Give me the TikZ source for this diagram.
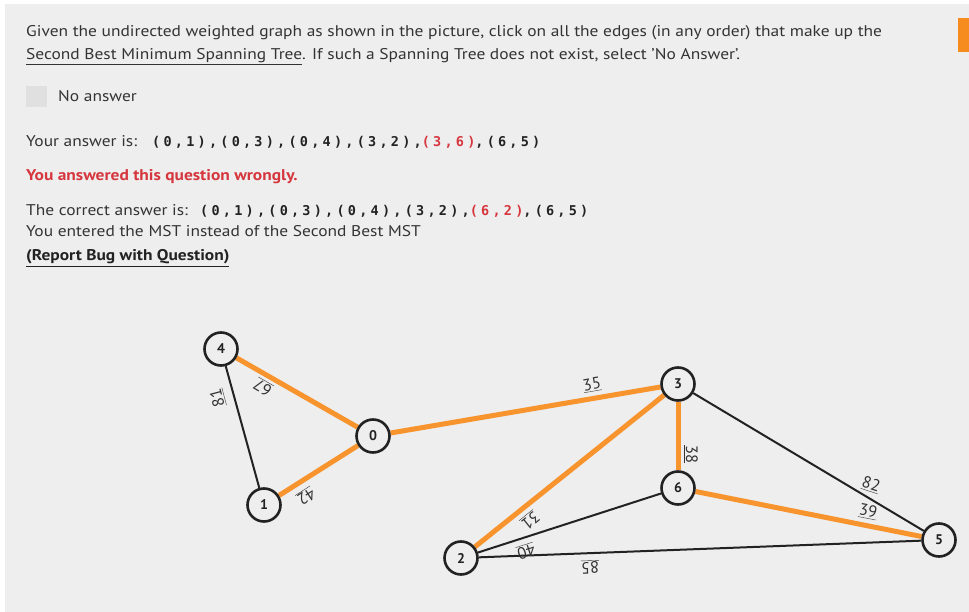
\documentclass[tikz,border=0pt]{standalone}
\usepackage{fontspec}
\setmainfont{PT Sans}[FakeStretch=1.124]
\newfontfamily\labfont{PT Sans}
\newfontfamily\tupfont{DejaVu Sans Mono}[LetterSpace=24]
\definecolor{panel}{RGB}{238,238,238}
\definecolor{ink}{RGB}{51,51,51}
\definecolor{wrong}{RGB}{214,54,62}
\definecolor{mst}{RGB}{247,148,46}
\definecolor{tab}{RGB}{247,140,30}
\definecolor{edgeink}{RGB}{34,34,34}
\pgfdeclarelayer{back}
\pgfdeclarelayer{edges}
\pgfsetlayers{back,edges,main}
\tikzset{
  txt/.style={anchor=base west, inner sep=0pt, text=ink, font=\fontsize{15.5}{18}\selectfont},
  tup/.style={anchor=base west, inner sep=0pt, text=edgeink, font=\tupfont\bfseries\fontsize{13.5}{17}\selectfont},
  vert/.style={circle, draw=edgeink, line width=2.6pt, fill=panel, minimum size=33pt, inner sep=0pt, text=edgeink, font=\labfont\bfseries\fontsize{14}{14}\selectfont},
  treeedge/.style={draw=mst, line width=5pt},
  plainedge/.style={draw=edgeink, line width=2pt},
  wlabel/.style={inner sep=0pt, text=ink, font=\labfont\fontsize{16.5}{16.5}\selectfont},
}
\begin{document}
\begin{tikzpicture}[x=1pt,y=-1pt]
\useasboundingbox (0,0) rectangle (969,612);
\begin{pgfonlayer}{back}
\fill[white] (0,0) rectangle (969,612);
\fill[panel] (5,4) rectangle (969,612);
\fill[tab] (958,18) rectangle (969,52);
\fill[black!12] (26,86) rectangle (47,107);
\end{pgfonlayer}

% question text
\node[txt] (q1) at (26,37) {Given the undirected weighted graph as shown in the picture, click on all the edges (in any order) that make up the};
\node[txt] (q2) at (26,60) {\underline{Second Best Minimum Spanning Tree}. If such a Spanning Tree does not exist, select 'No Answer'.};
\node[txt] (noans) at (58,102) {No answer};
\node[txt] (ya) at (26,147) {Your answer is:};
\node[tup] (yat) at (152,147) {(0,1),(0,3),(0,4),(3,2),\textcolor{wrong}{(3,6)},(6,5)};
\node[txt, text=wrong, font=\bfseries\fontsize{15.5}{18}\selectfont] (wr) at (26,181) {You answered this question wrongly.};
\node[txt] (ca) at (26,216) {The correct answer is:};
\node[tup] (cat) at (200,216) {(0,1),(0,3),(0,4),(3,2),\textcolor{wrong}{(6,2)},(6,5)};
\node[txt] (ent) at (26,237) {You entered the MST instead of the Second Best MST};
\node[txt, text=edgeink, font=\bfseries\fontsize{15.5}{18}\selectfont] (rep) at (26,261) {\underline{(Report Bug with Question)}};

% vertices
\node[vert] (v4) at (221,349) {4};
\node[vert] (v0) at (373,436) {0};
\node[vert] (v1) at (264,505) {1};
\node[vert] (v2) at (461,558) {2};
\node[vert] (v3) at (678,384) {3};
\node[vert] (v6) at (678,488) {6};
\node[vert] (v5) at (939,540) {5};

% edges
\begin{pgfonlayer}{edges}
\draw[plainedge] (v4) -- (v1);
\draw[plainedge] (v3) -- (v5);
\draw[plainedge] (v2) -- (v6);
\draw[plainedge] (v2) -- (v5);
\draw[treeedge] (v4) -- (v0);
\draw[treeedge] (v0) -- (v1);
\draw[treeedge] (v0) -- (v3);
\draw[treeedge] (v3) -- (v2);
\draw[treeedge] (v3) -- (v6);
\draw[treeedge] (v6) -- (v5);
\end{pgfonlayer}

% weights
\node[wlabel, rotate=105] (w41) at (218,398) {\underline{81}};
\node[wlabel, rotate=150] (w40) at (263,387) {\underline{67}};
\node[wlabel, rotate=213] (w01) at (306,496) {\underline{42}};
\node[wlabel, rotate=9.8] (w03) at (592,385) {\underline{35}};
\node[wlabel, rotate=218.8] (w32) at (530,520) {\underline{31}};
\node[wlabel, rotate=-90] (w36) at (691,454) {\underline{38}};
\node[wlabel, rotate=197.8] (w62) at (526,551) {\underline{40}};
\node[wlabel, rotate=182] (w52) at (590,567) {\underline{85}};
\node[wlabel, rotate=-18] (w35) at (871,485) {\underline{82}};
\node[wlabel, rotate=-11] (w65) at (868,512) {\underline{39}};
\end{tikzpicture}
\end{document}
